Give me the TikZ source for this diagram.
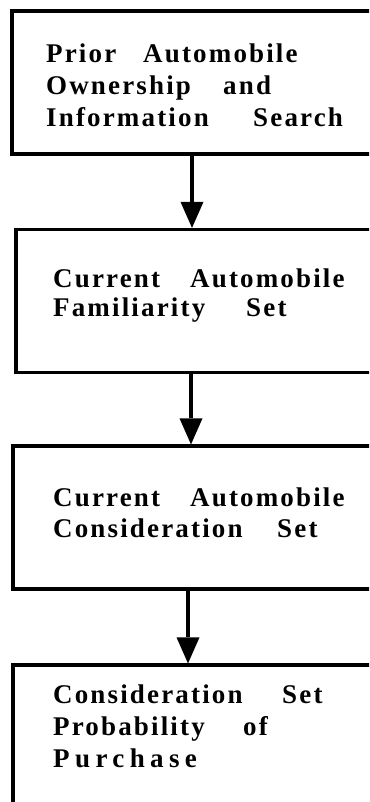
\documentclass[tikz,border=0pt]{standalone}
\usepackage{fontspec}
\setmainfont{Liberation Serif}
\newfontfamily\labelfont{Liberation Serif Bold}[LetterSpace=8]
\newfontfamily\widelabelfont{Liberation Serif Bold}[LetterSpace=20]
\usetikzlibrary{arrows.meta}
% a word set in a box of fixed width, so that the next word starts at a set place
\newcommand\wordat[2]{\makebox[#1][l]{#2}}

\begin{document}
\begin{tikzpicture}[x=1pt,y=-1pt,
  box/.style={draw, line width=3.3pt, minimum width=420pt, minimum height=143pt,
    anchor=north west, outer sep=0pt, inner sep=0pt},
  txt/.style={anchor=base west, inner sep=0pt, align=left,
    font=\labelfont\fontsize{27pt}{#1}\selectfont},
  flow/.style={line width=4.6pt, shorten >=1.6pt,
    -{Triangle[length=26pt,width=23pt,line width=0pt]}}]
  \path[use as bounding box] (0,0) rectangle (369,802);
  \clip (0,0) rectangle (369,802);

  % the four stages, each running past the right edge
  \node[box] (b1) at (12,11) {};
  \node[box] (b2) at (16,229.5) {};
  \node[box] (b3) at (13,446) {};
  \node[box] (b4) at (13,665) {};

  % stage labels, placed by the baseline of their last line
  \node[txt=32pt] (t1) at (46,127)
    {\wordat{97pt}{Prior}Automobile\\
     \wordat{177pt}{Ownership}and\\
     \wordat{207pt}{Information}Search};
  \node[txt=29pt] (t2) at (53,316)
    {\wordat{137pt}{Current}Automobile\\
     \wordat{193pt}{Familiarity}Set};
  \node[txt=31pt] (t3) at (53,537)
    {\wordat{137pt}{Current}Automobile\\
     \wordat{224pt}{Consideration}Set};
  \node[txt=32pt] (t4) at (53,767)
    {\wordat{229pt}{Consideration}Set\\
     \wordat{190pt}{Probability}of\\
     {\widelabelfont Purchase}};

  % connectors between stages
  \coordinate (x1) at (192,0);
  \coordinate (x2) at (191,0);
  \coordinate (x3) at (188,0);
  \draw[flow] (b1.south -| x1) -- (b2.north -| x1);
  \draw[flow] (b2.south -| x2) -- (b3.north -| x2);
  \draw[flow] (b3.south -| x3) -- (b4.north -| x3);
\end{tikzpicture}
\end{document}
